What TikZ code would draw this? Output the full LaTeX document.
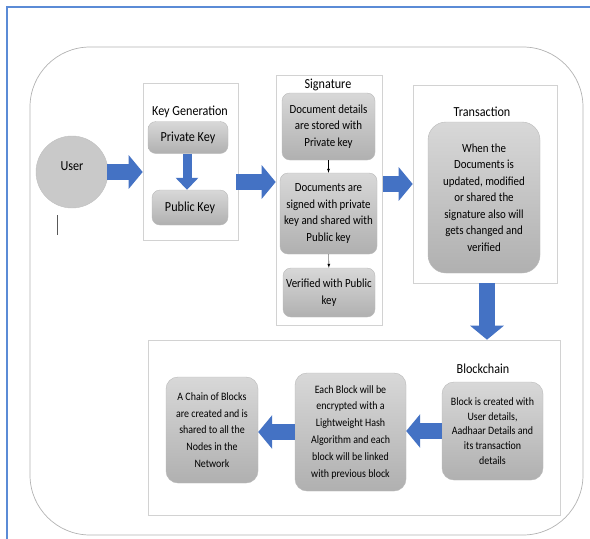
\documentclass[tikz,border=0pt]{standalone}
\usepackage{fontspec}
\setmainfont[FakeStretch=0.88]{Carlito}
\usepackage{xcolor}
\usetikzlibrary{shapes}
\usetikzlibrary{positioning}
\usetikzlibrary{arrows.meta}
\definecolor{arrowblue}{RGB}{68,114,196}
\definecolor{frameblue}{RGB}{91,139,214}
\definecolor{boxtop}{RGB}{216,216,216}
\definecolor{boxbot}{RGB}{176,176,176}

\begin{document}
\begin{tikzpicture}[x=1pt,y=-1pt,
    panel/.style={draw=gray!35, fill=white, line width=0.6pt},
    graybox/.style={draw=gray!55, rounded corners=8pt, top color=boxtop, bottom color=boxbot, align=center, inner sep=0pt},
    boxtext/.style={font=\fontsize{12.4}{16.5}\selectfont},
    lowtext/.style={font=\fontsize{11.3}{16.8}\selectfont},
    title/.style={font=\fontsize{13.8}{15}\selectfont},
    bigarrow/.style={draw=arrowblue, line width=16pt, -{Triangle[width=33pt,length=14pt]}},
    midarrow/.style={draw=arrowblue, line width=9pt, -{Triangle[width=22pt,length=12pt]}}]

          \useasboundingbox (0,0) rectangle (590,539);
        %Frames
          \draw [frameblue, line width=2pt] (7,545) -- (7,7) -- (596,7);
          \draw [gray!60, line width=0.7pt, rounded corners=60pt] (30,47) rectangle (583,535);

        %User
          \node [circle, fill=gray!42, draw=gray!50, minimum size=72pt, inner sep=0pt] (user) at (72,172) {};
          \node [title] (usertext) at (72,166) {User};
          \draw [gray!70!black, line width=0.8pt] (57,215) -- (57,235);

        %Key Generation
          \node [panel, minimum width=95pt, minimum height=157pt] (keygen) at (190.5,161.5) {};
          \node [title] (keytitle) at (190,112) {Key Generation};
          \node [graybox, title, minimum width=80pt, minimum height=32pt] (privkey) at (188,137.5) {Private Key};
          \node [graybox, title, minimum width=76pt, minimum height=35pt] (pubkey) at (190,207.5) {Public Key};

        %Signature
          \node [panel, minimum width=106pt, minimum height=250pt] (sigpanel) at (329,200) {};
          \node [title] (sigtitle) at (328,85) {Signature};
          \node [graybox, boxtext, minimum width=93pt, minimum height=67pt] (sigstore) at (328.5,126.5) {Document details\\are stored with\\Private key};
          \node [graybox, boxtext, minimum width=97pt, minimum height=81pt] (sigsign) at (328.5,213.5) {Documents are\\signed with private\\key and shared with\\Public key};
          \node [graybox, boxtext, minimum width=92pt, minimum height=49pt] (sigverify) at (329,292.5) {Verified with Public\\key};

        %Transaction
          \node [panel, minimum width=144pt, minimum height=198pt] (trans) at (485,184) {};
          \node [title] (transtitle) at (482,112) {Transaction};
          \node [graybox, boxtext, rounded corners=18pt, minimum width=112pt, minimum height=151pt] (transtext) at (484,197.5) {When the\\Documents is\\updated, modified\\or shared the\\signature also will\\gets changed and\\verified};

        %Blockchain
          \node [panel, minimum width=412pt, minimum height=175pt] (chainpanel) at (354,427.5) {};
          \node [title] (chaintitle) at (483,369) {Blockchain};
          \node [graybox, lowtext, font=\fontsize{11.3}{14.8}\selectfont, rounded corners=12pt, minimum width=101pt, minimum height=98pt] (blockcreate) at (492.5,431) {Block is created with\\User details,\\Aadhaar Details and\\its transaction\\details};
          \node [graybox, lowtext, rounded corners=12pt, minimum width=111pt, minimum height=118pt] (blockhash) at (350.5,432) {Each Block will be\\encrypted with a\\Lightweight Hash\\Algorithm and each\\block will be linked\\with previous block};
          \node [graybox, lowtext, rounded corners=12pt, minimum width=92pt, minimum height=106pt] (blocknet) at (212,430) {A Chain of Blocks\\are created and is\\shared to all the\\Nodes in the\\Network};

        %Fleches
          \coordinate (u2k) at ([xshift=-1pt]user.east);
          \draw [bigarrow] (u2k) -- (u2k -| keygen.west);
          \coordinate (k2s) at ([xshift=-2pt,yshift=-20.5pt]keygen.east);
          \draw [bigarrow] (k2s) -- (k2s -| sigpanel.west);
          \coordinate (s2t) at ([xshift=1pt,yshift=16pt]sigpanel.east);
          \draw [bigarrow] (s2t) -- (s2t -| trans.west);
          \coordinate (t2c) at ([xshift=2pt]trans.south);
          \draw [bigarrow] (t2c) -- (t2c |- chainpanel.north);
          \draw [bigarrow] (blockcreate.west) -- (blockcreate.west -| blockhash.east);
          \draw [bigarrow] (blockhash.west) -- (blockhash.west -| blocknet.east);

          \draw [midarrow] ([xshift=-1pt]privkey.south) -- ([xshift=-1pt]privkey.south |- pubkey.north);

          \draw [->, >=latex, thin] (sigstore) -- (sigsign);
          \draw [->, >=latex, thin] (sigsign) -- (sigverify);
\end{tikzpicture}
\end{document}
